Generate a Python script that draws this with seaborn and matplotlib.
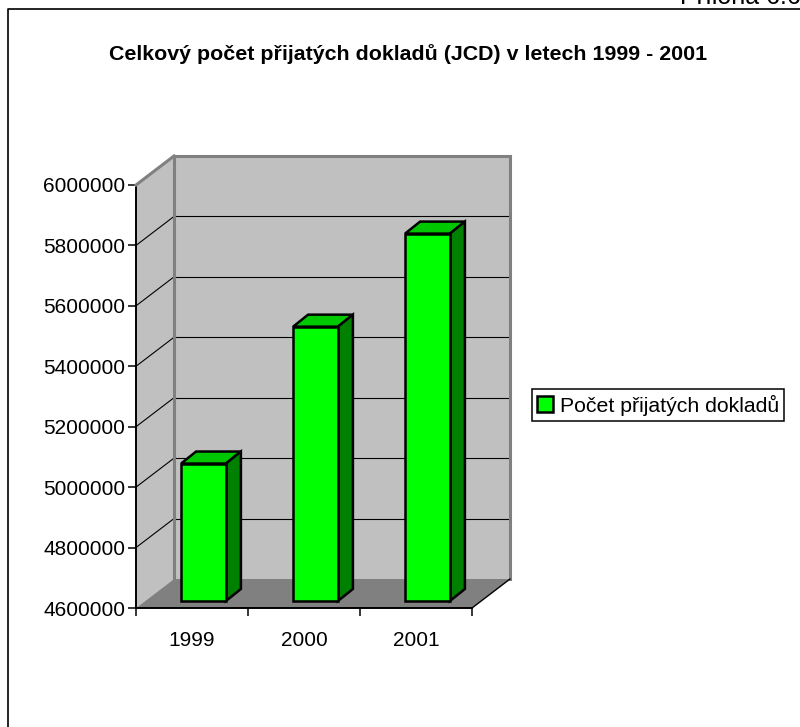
import matplotlib
matplotlib.use("Agg")
import matplotlib.pyplot as plt
from matplotlib.lines import Line2D
from matplotlib.patches import Polygon
from matplotlib.transforms import Affine2D, IdentityTransform
import pandas as pd
import seaborn as sns

roky = ["1999", "2000", "2001"]
doklady = [5055000, 5508000, 5816000]
y_ticks = [4600000, 4800000, 5000000, 5200000, 5400000, 5600000, 5800000, 6000000]
nazev = "Celkový počet přijatých dokladů (JCD) v letech 1999 - 2001"
popis = "Počet přijatých dokladů"

sns.set_style("white")
plt.rcParams["font.family"] = ["Liberation Sans", "DejaVu Sans"]

W, H = 800, 727
fig = plt.figure(figsize=(W / 100, H / 100), dpi=100, facecolor="white")
ax = fig.add_axes([136 / W, 1 - 608 / H, 336 / W, 423 / H], facecolor="none")

df = pd.DataFrame({"rok": roky, "doklady": doklady})
sns.barplot(data=df, x="rok", y="doklady", color="#00ff00", saturation=1, width=0.4,
            edgecolor="black", linewidth=1.8, label=popis, ax=ax, zorder=5)

ax.set_xlim(-0.5, 2.5)
ax.set_ylim(y_ticks[0], y_ticks[-1])
ax.set_yticks(y_ticks)
ax.set_yticklabels([str(t) for t in y_ticks])
ax.set_xlabel("")
ax.set_ylabel("")
ax.set_xticks([-0.5, 0.5, 1.5, 2.5])
ax.set_xticklabels([])
ax.set_xticks([0, 1, 2], roky, minor=True)
ax.tick_params(axis="x", which="major", length=6, width=1.1, color="black", direction="out", bottom=True)
ax.tick_params(axis="x", which="minor", length=0, pad=16.5, labelsize=15, labelcolor="black", bottom=False)
ax.tick_params(axis="y", length=5.5, width=1.1, color="black", direction="out", pad=2.4, labelsize=15,
               labelcolor="black", left=True)
sns.despine(ax=ax, top=True, right=True)
ax.spines["left"].set_linewidth(1.4)
ax.spines["left"].set_color("black")
ax.spines["bottom"].set_linewidth(1.4)
ax.spines["bottom"].set_color("black")


def px(x, y, dx=0, dy=0):
    a, b = ax.transData.transform((x, y))
    return (a + dx, b + dy)


def plocha(body, barva, z, **kw):
    kw.setdefault("linewidth", 0)
    ax.add_patch(Polygon(body, closed=True, facecolor=barva, transform=IdentityTransform(),
                         clip_on=False, zorder=z, **kw))


def cara(a, b, barva, lw, z):
    ax.add_line(Line2D([a[0], b[0]], [a[1], b[1]], color=barva, linewidth=lw,
                       transform=IdentityTransform(), clip_on=False, zorder=z,
                       solid_capstyle="projecting"))


# hloubka steny a sloupcu v pixelech
DX, DY = 38, 29
BAR_DX, BAR_DY = 11.5, 7
HL_X, HL_Y = 15, 12

x0, x1 = -0.5, 2.5
y0, y1 = y_ticks[0], y_ticks[-1]

# steny a podlaha
plocha([px(x0, y0), px(x0, y1), px(x0, y1, DX, DY), px(x0, y0, DX, DY)], "#c0c0c0", 1)
plocha([px(x0, y0, DX, DY), px(x0, y1, DX, DY), px(x1, y1, DX, DY), px(x1, y0, DX, DY)], "#c0c0c0", 1)
plocha([px(x0, y0), px(x0, y0, DX, DY), px(x1, y0, DX, DY), px(x1, y0)], "#808080", 1.5)

for t in y_ticks[1:-1]:
    cara(px(x0, t), px(x0, t, DX, DY), "black", 0.8, 2)
    cara(px(x0, t, DX, DY), px(x1, t, DX, DY), "black", 0.8, 2)

cara(px(x0, y1), px(x0, y1, DX, DY), "#808080", 2.2, 3)
cara(px(x0, y1, DX, DY), px(x1, y1, DX, DY), "#808080", 2.2, 3)
cara(px(x0, y0, DX, DY), px(x0, y1, DX, DY), "#808080", 2.2, 3)
cara(px(x1, y0, DX, DY), px(x1, y1, DX, DY), "#808080", 2.2, 3)
cara(px(x1, y0), px(x1, y0, DX, DY), "black", 1.0, 3)

# sloupce jsou od seabornu, doplni se jen 3D plochy
posun = ax.transData + Affine2D().translate(BAR_DX, BAR_DY)
for p, v in zip(ax.patches[:3], doklady):
    xa = p.get_x()
    xb = xa + p.get_width()
    p.set_y(y0)
    p.set_height(v - y0)
    p.set_transform(posun)
    p.set_clip_on(False)
    a = px(xa, v, BAR_DX, BAR_DY)
    b = px(xb, v, BAR_DX, BAR_DY)
    c = px(xb, y0, BAR_DX, BAR_DY)
    hrana = dict(edgecolor="black", linewidth=1.8, joinstyle="miter")
    plocha([a, b, (b[0] + HL_X, b[1] + HL_Y), (a[0] + HL_X, a[1] + HL_Y)], "#00c800", 4, **hrana)
    plocha([b, c, (c[0] + HL_X, c[1] + HL_Y), (b[0] + HL_X, b[1] + HL_Y)], "#008000", 4, **hrana)

fig.text(408.5 / W, 1 - 54 / H, nazev, ha="center", va="center", fontsize=15.4, fontweight="bold", color="black")
fig.text(680 / W, 1 - 4 / H, "Příloha 6.6", ha="left", va="baseline", fontsize=18, color="black")

# ramecek grafu
fig.add_artist(Line2D([7.5 / W, 7.5 / W, 1], [0, 1 - 9 / H, 1 - 9 / H], color="black", linewidth=1.2))

leg = ax.legend(loc="center left", bbox_to_anchor=(532 / W, 1 - 405 / H), bbox_transform=fig.transFigure,
                frameon=True, fancybox=False, framealpha=1, facecolor="white", edgecolor="black",
                fontsize=15.3, handlelength=0.75, handleheight=0.75, handletextpad=0.3, borderpad=0.25,
                borderaxespad=0, labelcolor="black")
leg.set_zorder(10)
leg.get_frame().set_linewidth(1.1)

fig.savefig("out.png", dpi=100, facecolor="white")
